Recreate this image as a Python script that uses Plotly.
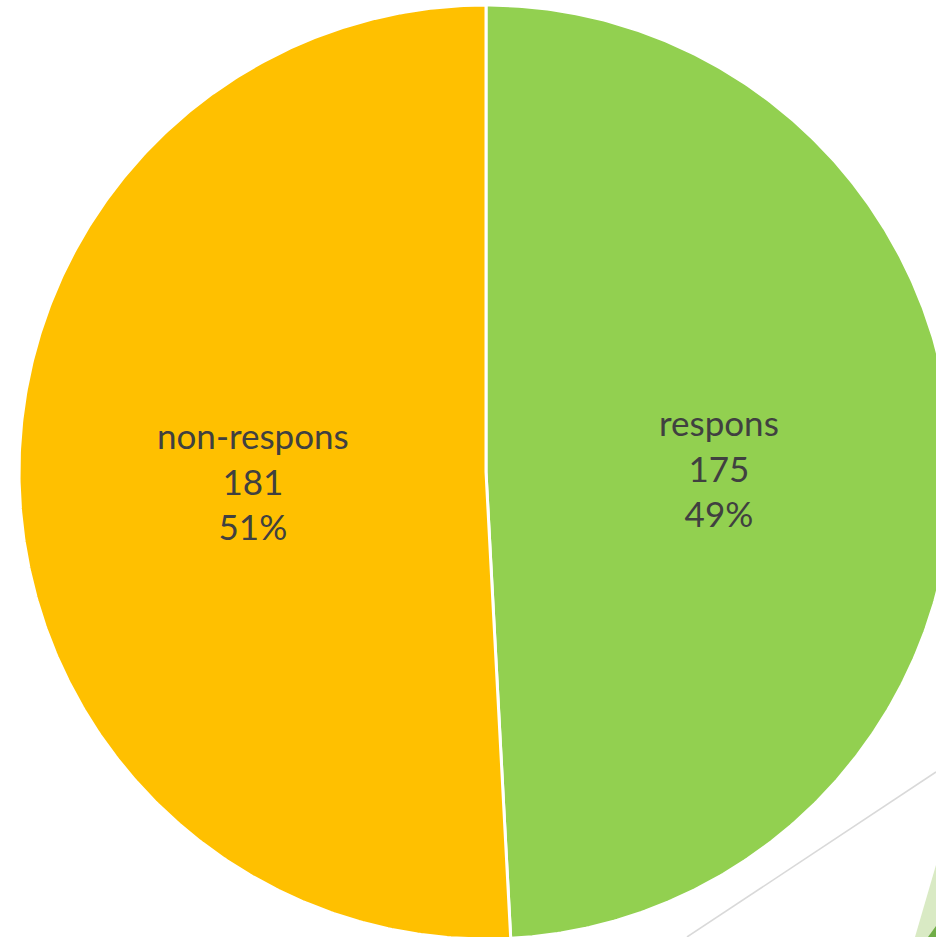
import numpy as np
import plotly.graph_objects as go

labels = ["respons", "non-respons"]
values = [175, 181]
colors = ["#92D050", "#FFC000"]

W, H = 936, 937
CX, CY, R = 486, 472, 467

total = sum(values)
fig = go.Figure()

start = 0.0
label_pos = []
for lab, val, col in zip(labels, values, colors):
    sweep = 360.0 * val / total
    ang = np.radians(np.linspace(start, start + sweep, 400))
    xs = np.concatenate([[CX], CX + R * np.sin(ang), [CX]])
    ys = np.concatenate([[CY], CY - R * np.cos(ang), [CY]])
    fig.add_trace(go.Scatter(x=xs, y=ys, fill="toself", fillcolor=col, mode="lines",
                             line=dict(color="white", width=3), hoverinfo="skip",
                             showlegend=False))
    mid = np.radians(start + sweep / 2)
    label_pos.append((CX + 0.5 * R * np.sin(mid), CY - 0.5 * R * np.cos(mid), lab, val))
    start += sweep

for x, y, lab, val in label_pos:
    pct = round(100 * val / total)
    fig.add_annotation(x=x, y=y + 2, text=f"{lab}<br>{val}<br>{pct}%", showarrow=False,
                       font=dict(family="Lato", size=35, color="#404040"),
                       align="center", xanchor="center", yanchor="middle")

# partial secondary chart elements visible at the bottom right
fig.add_shape(type="line", x0=936, y0=772, x1=687, y1=937,
              line=dict(color="#D9D9D9", width=1.5), layer="below")
fig.add_shape(type="path", path="M 936 865 L 915 937 L 936 937 Z",
              fillcolor="#D9EAC4", line=dict(width=0), layer="below")
fig.add_shape(type="path", path="M 936 926 L 928 937 L 936 937 Z",
              fillcolor="#70AD47", line=dict(width=0), layer="below")

fig.update_layout(
    width=W, height=H,
    margin=dict(l=0, r=0, t=0, b=0),
    paper_bgcolor="white", plot_bgcolor="white",
    xaxis=dict(range=[0, W], visible=False, fixedrange=True),
    yaxis=dict(range=[H, 0], visible=False, fixedrange=True),
)
fig.write_html("out.html", config={"displayModeBar": False},
               post_script="document.body.style.margin='0';document.body.style.overflow='hidden';")
